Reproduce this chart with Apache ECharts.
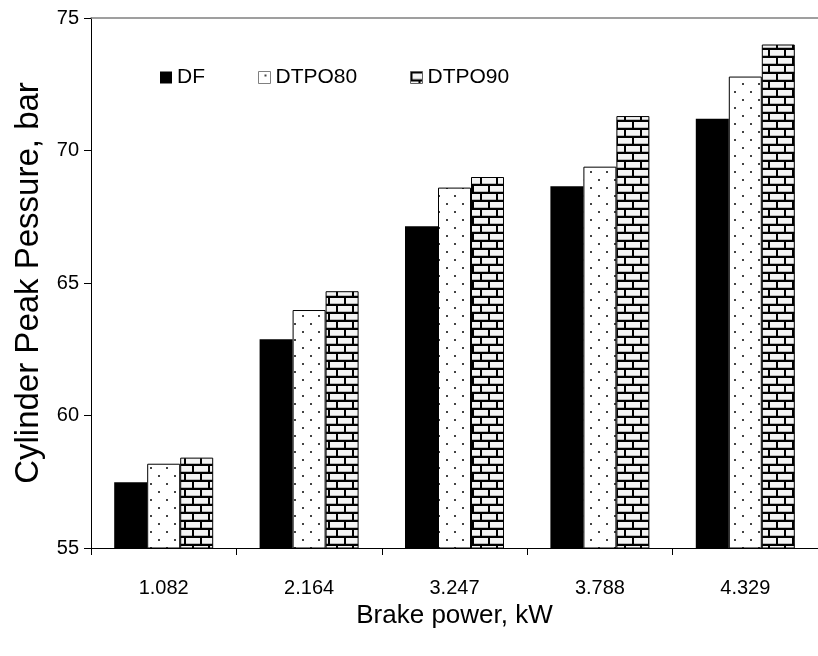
<!DOCTYPE html>
<html>
<head>
<meta charset="utf-8">
<script src="https://cdn.jsdelivr.net/npm/echarts@6/dist/echarts.min.js"></script>
<style>
  html, body { margin: 0; padding: 0; background: #fff; }
  #chart { width: 818px; height: 656px; }
</style>
</head>
<body>
<div id="chart"></div>
<script>
// Brake power levels (kW)
const categories = ['1.082', '2.164', '3.247', '3.788', '4.329'];
// Cylinder peak pressure (bar) per fuel
const dfValues = [57.48, 62.88, 67.14, 68.65, 71.2];
const dtpo80Values = [58.18, 63.98, 68.6, 69.39, 72.79];
const dtpo90Values = [58.41, 64.69, 69.0, 71.3, 74.0];
const seriesNames = ['DF', 'DTPO80', 'DTPO90'];
const yTicks = { min: 55, max: 75, step: 5 };

const FONT = '"Liberation Sans", Arial, sans-serif';

// Sparse dotted fill
function dotPattern() {
  const c = document.createElement('canvas');
  c.width = 16; c.height = 16;
  const g = c.getContext('2d');
  g.fillStyle = '#ffffff';
  g.fillRect(0, 0, 16, 16);
  g.fillStyle = '#444444';
  g.fillRect(6, 3, 2, 2);
  g.fillRect(14, 11, 2, 2);
  return c;
}

// Brick-wall fill
function brickPattern() {
  const c = document.createElement('canvas');
  c.width = 16; c.height = 16;
  const g = c.getContext('2d');
  g.fillStyle = '#f4f4f4';
  g.fillRect(0, 0, 16, 16);
  g.fillStyle = '#000000';
  g.fillRect(0, 0, 16, 2);
  g.fillRect(0, 8, 16, 2);
  g.fillRect(0, 0, 2, 8);
  g.fillRect(8, 8, 2, 8);
  g.fillStyle = '#b8b8b8';
  g.fillRect(2, 7, 14, 1);
  g.fillRect(0, 15, 8, 1);
  g.fillRect(10, 15, 6, 1);
  return c;
}

const fills = [
  '#000000',
  { image: dotPattern(), repeat: 'repeat' },
  { image: brickPattern(), repeat: 'repeat' }
];
const legendBorders = ['#000000', '#808080', '#606060'];
const values = [dfValues, dtpo80Values, dtpo90Values];
const legendLeft = [160, 258, 410];

const chart = echarts.init(document.getElementById('chart'), null, { renderer: 'canvas' });

chart.setOption({
  backgroundColor: '#ffffff',
  animation: false,
  textStyle: { fontFamily: FONT },
  grid: { left: 91, right: -8, top: 18, bottom: 108 },
  legend: seriesNames.map((name, i) => ({
    data: [{ name: name, itemStyle: { borderColor: legendBorders[i], borderWidth: i === 0 ? 0 : 1 } }],
    left: legendLeft[i],
    top: 67,
    padding: 0,
    itemWidth: 12,
    itemHeight: 12,
    icon: 'rect',
    textStyle: { fontFamily: FONT, fontSize: 21, color: '#000' },
    selectedMode: false
  })),
  xAxis: [{
    type: 'category',
    data: categories,
    name: 'Brake power, kW',
    nameLocation: 'middle',
    nameGap: 54,
    nameTextStyle: { fontFamily: FONT, fontSize: 26, color: '#000' },
    axisLine: { lineStyle: { color: '#000', width: 1 } },
    axisTick: { show: true, length: 7, lineStyle: { color: '#000' } },
    axisLabel: { fontFamily: FONT, fontSize: 20, color: '#000', margin: 30 },
    splitLine: { show: false }
  }, {
    type: 'category',
    data: categories,
    position: 'top',
    axisLine: { lineStyle: { color: '#808080', width: 1.5 } },
    axisTick: { show: false },
    axisLabel: { show: false }
  }],
  yAxis: {
    type: 'value',
    min: yTicks.min,
    max: yTicks.max,
    interval: yTicks.step,
    name: 'Cylinder Peak Pessure, bar',
    nameLocation: 'middle',
    nameGap: 46,
    nameRotate: 90,
    nameTextStyle: { fontFamily: FONT, fontSize: 33, color: '#000' },
    axisLine: { show: true, lineStyle: { color: '#000', width: 1 } },
    axisTick: { show: true, length: 7, lineStyle: { color: '#000' } },
    axisLabel: { fontFamily: FONT, fontSize: 20, color: '#000', margin: 12 },
    splitLine: { show: false }
  },
  series: seriesNames.map((name, i) => ({
    name: name,
    type: 'bar',
    data: values[i],
    barWidth: 33,
    barGap: '0%',
    itemStyle: {
      color: fills[i],
      borderColor: '#000',
      borderWidth: i === 0 ? 0 : 1
    },
    emphasis: { disabled: true }
  }))
});
</script>
</body>
</html>
